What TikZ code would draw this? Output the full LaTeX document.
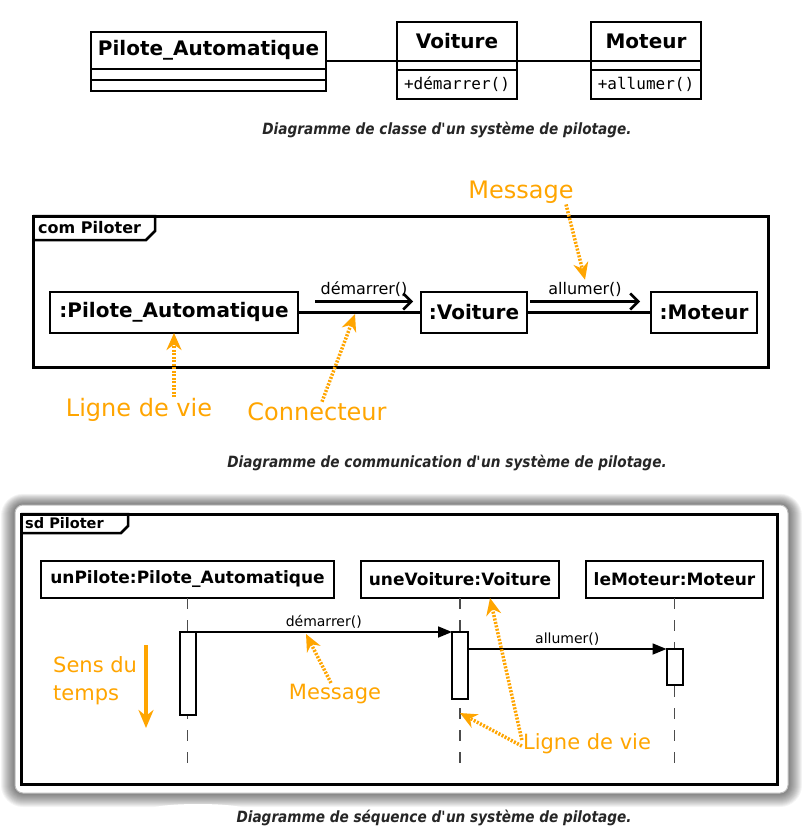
\documentclass[tikz,border=0pt]{standalone}
\usepackage{fontspec}
\setmainfont{DejaVu Sans}
\setmonofont{DejaVu Sans Mono}
\newfontfamily\capfont{DejaVu Sans}[FakeStretch=0.88]
\usetikzlibrary{positioning,arrows.meta}
\definecolor{noteorange}{RGB}{255,165,0}

\begin{document}
\begin{tikzpicture}[x=1pt, y=-1pt,
    umlbox/.style={draw, rectangle, line width=2.5pt, fill=white, inner sep=0pt, outer sep=0pt},
    classname/.style={umlbox, font=\fontsize{20}{24}\selectfont\bfseries},
    opsbox/.style={umlbox, font=\fontsize{16}{18}\selectfont\ttfamily},
    objbox/.style={umlbox, minimum height=41pt, font=\fontsize{20}{24}\selectfont\bfseries},
    headbox/.style={umlbox, minimum height=37pt, font=\fontsize{17}{20}\selectfont\bfseries},
    actbox/.style={umlbox, line width=2pt, minimum width=16pt},
    framebox/.style={draw, rectangle, line width=3pt, inner sep=0pt, outer sep=0pt},
    tabline/.style={draw, line width=2.5pt},
    tablabel/.style={anchor=west, inner sep=0pt, font=\bfseries},
    assoc/.style={draw, line width=2.5pt},
    openmsg/.style={draw, line width=2.5pt, -{Straight Barb[length=8pt, width=16pt]}},
    callmsg/.style={draw, line width=1.8pt, -{Triangle[length=14pt, width=11pt]}},
    lifeline/.style={draw, black!70, line width=1.5pt, dash pattern=on 11pt off 11pt},
    msglabel/.style={inner sep=1pt, font=\fontsize{16}{18}\selectfont},
    seqlabel/.style={inner sep=1pt, font=\fontsize{14}{16}\selectfont},
    note/.style={text=noteorange, inner sep=1pt, font=\fontsize{24}{28}\selectfont},
    smallnote/.style={note, font=\fontsize{21}{28}\selectfont},
    hintarrow/.style={draw=noteorange, line width=3.5pt, dash pattern=on 2pt off 1.5pt,
        -{Stealth[length=17pt, width=15pt, fill=noteorange]}},
    timearrow/.style={draw=noteorange, line width=4pt, -{Stealth[length=18pt, width=15pt]}},
    caption/.style={text=black!85, font=\capfont\fontsize{15.5}{18}\selectfont\bfseries\itshape}
]
    \fill[white] (0,0) rectangle (802,830);
    \useasboundingbox (0,0) rectangle (802,830);

    % Class diagram
    \node[classname, minimum width=235pt, minimum height=37pt] (paName) at (208.5,50.5) {Pilote\_Automatique};
    \node[umlbox, minimum width=235pt, minimum height=11pt, below=0pt of paName] (paAttr) {};
    \node[umlbox, minimum width=235pt, minimum height=11pt, below=0pt of paAttr] (paOps) {};
    \node[classname, minimum width=120pt, minimum height=39pt] (voName) at (457,41.5) {Voiture};
    \node[umlbox, minimum width=120pt, minimum height=9pt, below=0pt of voName] (voAttr) {};
    \node[opsbox, minimum width=120pt, minimum height=29pt, below=0pt of voAttr] (voOps) {+démarrer()};
    \node[classname, minimum width=110pt, minimum height=39pt] (moName) at (646,41.5) {Moteur};
    \node[umlbox, minimum width=110pt, minimum height=9pt, below=0pt of moName] (moAttr) {};
    \node[opsbox, minimum width=110pt, minimum height=29pt, below=0pt of moAttr] (moOps) {+allumer()};

    \draw[assoc] (paName.east |- voName.south) -- (voName.south west);
    \draw[assoc] (voName.south east) -- (moName.south west);

    \node[caption] (capClass) at (447,130) {Diagramme de classe d\textquotesingle un système de pilotage.};

    % Communication diagram
    \node[framebox, minimum width=735pt, minimum height=151pt] (comFrame) at (400.5,291.5) {};
    \draw[tabline] (comFrame.north west) -- ++(122,0) -- ++(0,15) -- ++(-9,9) -- ++(-113,0);
    \node[tablabel, font=\fontsize{16}{18}\selectfont\bfseries] (comTab) at ([xshift=5pt,yshift=-12pt]comFrame.north west) {com Piloter};

    \node[objbox, minimum width=248pt] (cpa) at (174,312.5) {:Pilote\_Automatique};
    \node[objbox, minimum width=106pt] (cvo) at (474,312.5) {:Voiture};
    \node[objbox, minimum width=106pt] (cmo) at (704,312.5) {:Moteur};

    \draw[assoc] (cpa) -- (cvo);
    \draw[assoc] (cvo) -- (cmo);
    \draw[openmsg] ([xshift=17pt,yshift=11pt]cpa.east) -- ([xshift=-8pt,yshift=11pt]cvo.west)
        node[midway, above=3pt, msglabel] (cdem) {démarrer()};
    \draw[openmsg] ([xshift=3pt,yshift=11pt]cvo.east) -- ([xshift=-11pt,yshift=11pt]cmo.west)
        node[midway, above=3pt, msglabel] (callum) {allumer()};

    \node[note] (cmsgLbl) at (521,192) {Message};
    \node[note] (clvLbl) at (139,410) {Ligne de vie};
    \node[note] (cconLbl) at (317,412) {Connecteur};
    \coordinate (conPt) at (355,314);
    \draw[hintarrow] ([xshift=45pt]cmsgLbl.south) -- (callum.north);
    \draw[hintarrow] (clvLbl.north -| cpa.south) -- (cpa.south);
    \draw[hintarrow] ([xshift=5pt]cconLbl.north) -- (conPt);

    \node[caption] (capCom) at (447,463) {Diagramme de communication d\textquotesingle un système de pilotage.};

    % Sequence diagram
    \foreach \s in {1,...,14}
        \fill[black, opacity=0.045, rounded corners=8pt+\s pt] (15-\s,505-0.8*\s) rectangle (788+\s,793+\s);
    \fill[white] (198,810) ellipse (50 and 6);
    \filldraw[fill=white, draw=black!25, line width=1pt, rounded corners=8pt] (15,505) rectangle (788,793);
    \node[framebox, minimum width=756pt, minimum height=270pt] (seqFrame) at (399,649) {};
    \draw[tabline] (seqFrame.north west) -- ++(107,0) -- ++(0,12) -- ++(-7,7) -- ++(-100,0);
    \node[tablabel, font=\fontsize{14.5}{17}\selectfont\bfseries] (seqTab) at ([xshift=4pt,yshift=-9pt]seqFrame.north west) {sd Piloter};

    \node[headbox, minimum width=293pt] (spa) at (187.5,579.5) {unPilote:Pilote\_Automatique};
    \node[headbox, minimum width=198pt] (svo) at (460,579.5) {uneVoiture:Voiture};
    \node[headbox, minimum width=177pt] (smo) at (674.5,579.5) {leMoteur:Moteur};

    \foreach \h in {spa,svo,smo}
        \draw[lifeline] (\h.south) -- ([yshift=-175pt]\h.south);

    \node[actbox, minimum height=83pt, below=34pt of spa] (act1) {};
    \node[actbox, minimum height=67pt, below=34pt of svo] (act2) {};
    \node[actbox, minimum height=36pt, below=51pt of smo] (act3) {};

    \draw[callmsg] (act1.north east) -- (act2.north west)
        node[midway, above=2pt, seqlabel] (sdem) {démarrer()};
    \draw[callmsg] (act2.east |- act3.north) -- (act3.north west)
        node[midway, above=2pt, seqlabel] (sallum) {allumer()};

    \node[smallnote, align=left, anchor=west] (stLbl) at (52,681) {Sens du\\temps};
    \coordinate (tStart) at (146,645);
    \coordinate (tEnd) at (146,728);
    \draw[timearrow] (tStart) -- (tEnd);

    \node[smallnote] (smsgLbl) at (335,694) {Message};
    \coordinate (msgPt) at (306,634);
    \draw[hintarrow] ([xshift=-4pt]smsgLbl.north) -- (msgPt);

    \node[smallnote] (slvLbl) at (587,744) {Ligne de vie};
    \draw[hintarrow] ([yshift=-2pt]slvLbl.west) -- ([yshift=-14pt]act2.south);
    \draw[hintarrow] ([yshift=4pt]slvLbl.west) -- ([xshift=30pt]svo.south);

    \node[caption] (capSeq) at (434,818) {Diagramme de séquence d\textquotesingle un système de pilotage.};
\end{tikzpicture}
\end{document}
